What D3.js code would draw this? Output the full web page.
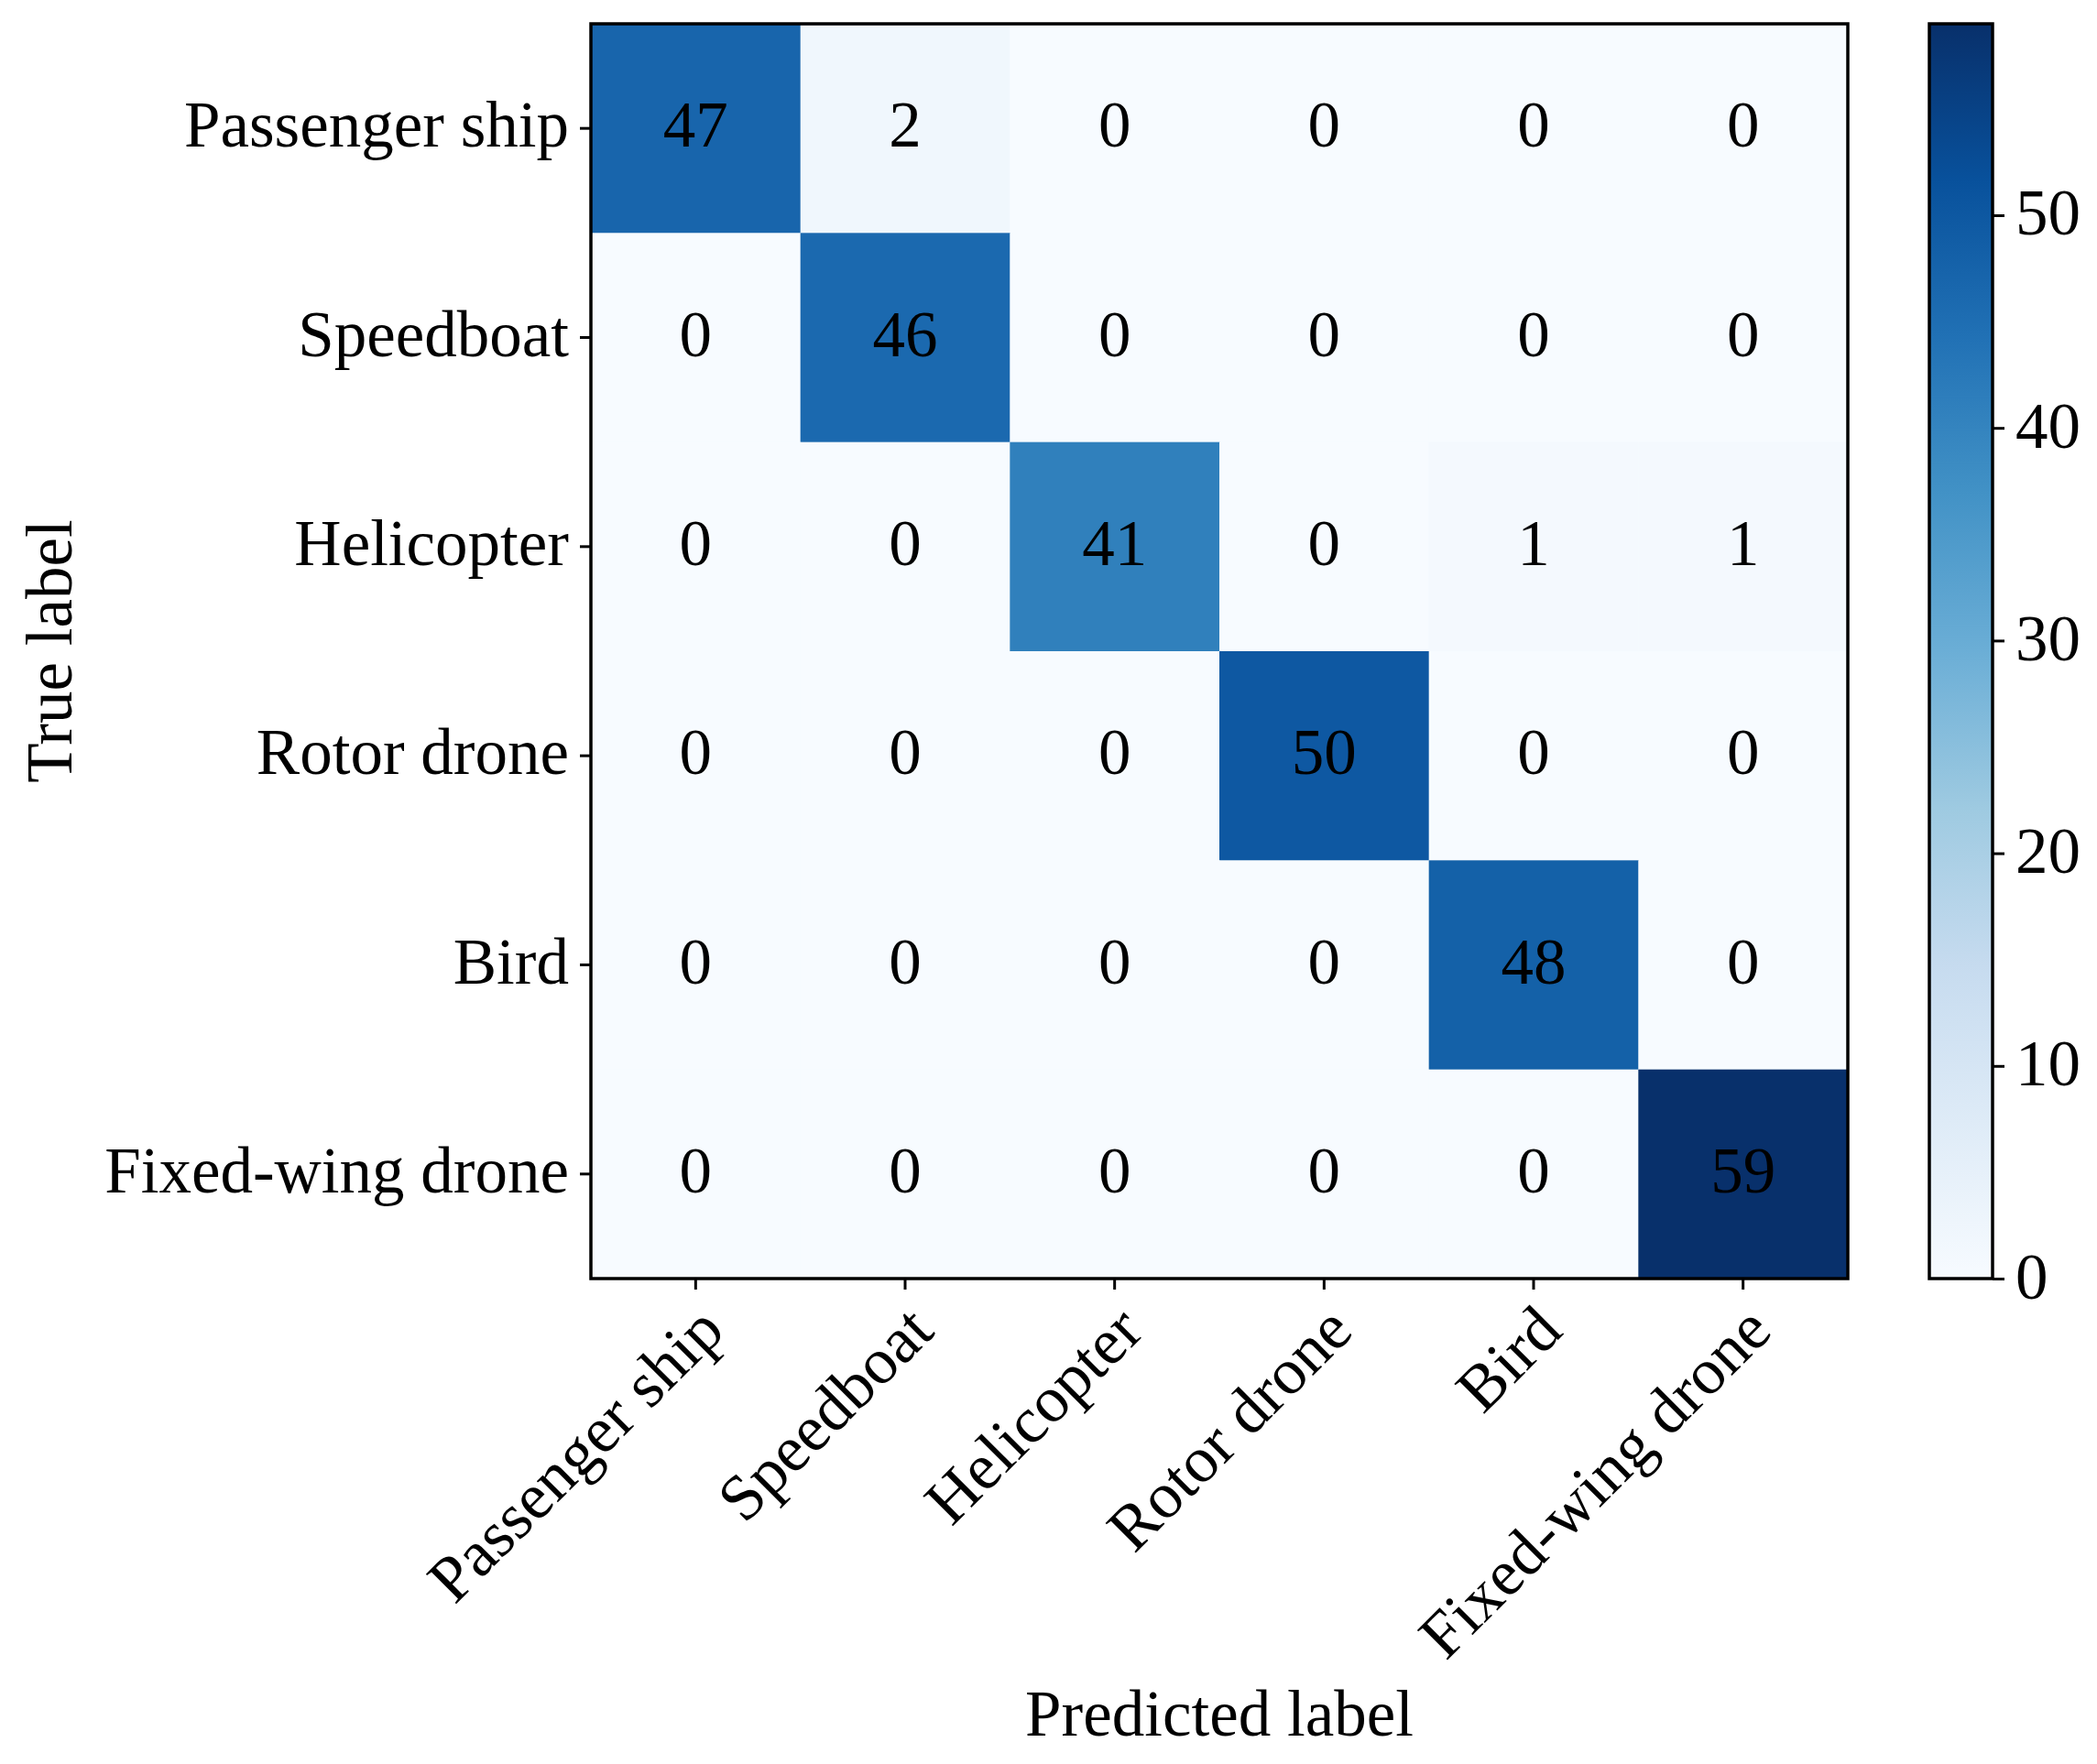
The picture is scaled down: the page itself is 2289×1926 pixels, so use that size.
<!DOCTYPE html>
<html>
<head>
<meta charset="utf-8">
<script src="https://cdn.jsdelivr.net/npm/d3@7"></script>
<style>
  body { margin: 0; background: #fff; }
  text { font-family: "Liberation Serif", "Times New Roman", serif; fill: #000; }
</style>
</head>
<body>
<script>
// confusion matrix, rows = true label, cols = predicted label
var classes = ["Passenger ship", "Speedboat", "Helicopter", "Rotor drone", "Bird", "Fixed-wing drone"];
var matrix = [
  [47, 2, 0, 0, 0, 0],
  [0, 46, 0, 0, 0, 0],
  [0, 0, 41, 0, 1, 1],
  [0, 0, 0, 50, 0, 0],
  [0, 0, 0, 0, 48, 0],
  [0, 0, 0, 0, 0, 59]
];
var colorTicks = [0, 10, 20, 30, 40, 50];
var colorMax = 59;

function main(){

  var w = 2289;
  var h = 1926;
  var fontSize = 71;
  var plotLeft = 645, plotRight = 2017, plotTop = 26, plotBottom = 1396;
  var cbLeft = 2106, cbRight = 2175;

  var svg = d3.select("body")
    .append("svg")
    .attr("width", w)
    .attr("height", h);

  svg.append("rect").attr("width", w).attr("height", h).attr("fill", "#fff");

  var xScale = d3.scaleBand().domain(classes).range([plotLeft, plotRight]);
  var yScale = d3.scaleBand().domain(classes).range([plotTop, plotBottom]);

  var blues = d3.schemeBlues[9];
  var color = d3.scaleLinear()
    .domain(blues.map(function(d, i){ return i * colorMax / (blues.length - 1); }))
    .range(blues)
    .interpolate(d3.interpolateRgb);

  var cells = [];
  matrix.forEach(function(row, i){
    row.forEach(function(v, j){
      cells.push({ t: classes[i], p: classes[j], v: v });
    });
  });

  svg.selectAll(".cell")
    .data(cells)
    .enter()
    .append("rect")
    .attr("class", "cell")
    .attr("x", function(d){ return xScale(d.p); })
    .attr("y", function(d){ return yScale(d.t); })
    .attr("width", xScale.bandwidth() + 0.5)
    .attr("height", yScale.bandwidth() + 0.5)
    .attr("fill", function(d){ return color(d.v); });

  svg.selectAll(".val")
    .data(cells)
    .enter()
    .append("text")
    .attr("class", "val")
    .attr("x", function(d){ return xScale(d.p) + xScale.bandwidth() / 2; })
    .attr("y", function(d){ return yScale(d.t) + yScale.bandwidth() / 2 - 4; })
    .attr("text-anchor", "middle")
    .attr("dominant-baseline", "central")
    .attr("font-size", fontSize)
    .text(function(d){ return d.v; });

  // axes
  var xAxis = d3.axisBottom(xScale).tickSize(12).tickSizeOuter(0).tickPadding(12);
  var yAxis = d3.axisLeft(yScale).tickSize(12).tickSizeOuter(0).tickPadding(12);

  var gx = svg.append("g")
    .attr("transform", "translate(0," + plotBottom + ")")
    .call(xAxis);
  gx.select(".domain").remove();
  gx.selectAll(".tick line").attr("stroke", "#000").attr("stroke-width", 3);
  gx.selectAll(".tick text")
    .attr("font-size", fontSize)
    .attr("font-family", "Liberation Serif")
    .attr("text-anchor", "end")
    .attr("dy", null)
    .attr("y", 0)
    .attr("transform", "translate(0,26) rotate(-45) translate(0,48)");

  var gy = svg.append("g")
    .attr("transform", "translate(" + plotLeft + ",0)")
    .call(yAxis);
  gy.select(".domain").remove();
  gy.selectAll(".tick line").attr("stroke", "#000").attr("stroke-width", 3);
  gy.selectAll(".tick text")
    .attr("font-size", fontSize)
    .attr("font-family", "Liberation Serif")
    .attr("dy", null)
    .attr("y", -4)
    .attr("dominant-baseline", "central");

  svg.append("rect")
    .attr("x", plotLeft).attr("y", plotTop)
    .attr("width", plotRight - plotLeft).attr("height", plotBottom - plotTop)
    .attr("fill", "none").attr("stroke", "#000").attr("stroke-width", 3.5);

  svg.append("text")
    .attr("x", (plotLeft + plotRight) / 2)
    .attr("y", 1895)
    .attr("text-anchor", "middle")
    .attr("font-size", fontSize)
    .text("Predicted label");

  svg.append("text")
    .attr("transform", "translate(78," + ((plotTop + plotBottom) / 2) + ") rotate(-90)")
    .attr("text-anchor", "middle")
    .attr("font-size", fontSize)
    .text("True label");

  // colorbar
  var cbScale = d3.scaleLinear().domain([0, colorMax]).range([plotBottom, plotTop]);

  var grad = svg.append("defs").append("linearGradient")
    .attr("id", "cbgrad")
    .attr("x1", 0).attr("y1", 1).attr("x2", 0).attr("y2", 0);
  grad.selectAll("stop")
    .data(color.domain())
    .enter()
    .append("stop")
    .attr("offset", function(d){ return d / colorMax; })
    .attr("stop-color", function(d){ return color(d); });

  svg.append("rect")
    .attr("x", cbLeft).attr("y", plotTop)
    .attr("width", cbRight - cbLeft).attr("height", plotBottom - plotTop)
    .attr("fill", "url(#cbgrad)")
    .attr("stroke", "#000").attr("stroke-width", 3.5);

  var cbAxis = d3.axisRight(cbScale).tickValues(colorTicks).tickSize(13).tickSizeOuter(0).tickPadding(12);
  var gc = svg.append("g")
    .attr("transform", "translate(" + cbRight + ",0)")
    .call(cbAxis);
  gc.select(".domain").remove();
  gc.selectAll(".tick line").attr("stroke", "#000").attr("stroke-width", 3);
  gc.selectAll(".tick text")
    .attr("font-size", fontSize)
    .attr("font-family", "Liberation Serif")
    .attr("dy", null)
    .attr("y", -3)
    .attr("dominant-baseline", "central");
}

main();
</script>
</body>
</html>
